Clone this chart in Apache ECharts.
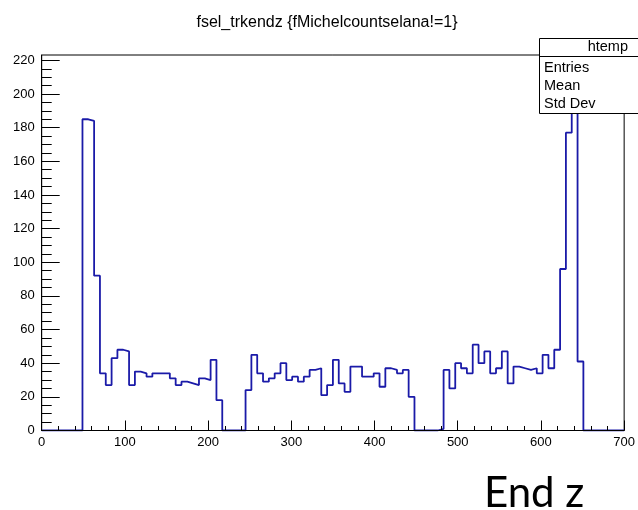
<!DOCTYPE html>
<html>
<head>
<meta charset="utf-8">
<script src="https://cdn.jsdelivr.net/npm/echarts@6/dist/echarts.min.js"></script>
<style>
html,body{margin:0;padding:0;background:#fff;}
#c{width:638px;height:510px;}
</style>
</head>
<body>
<div id="c"></div>
<script>
// ---- data ----
const chartTitle = 'fsel_trkendz {fMichelcountselana!=1}';
const histName = 'htemp';
const statLabels = ['Entries', 'Mean', 'Std Dev'];
const axisNote = 'End z';
const binLow = 0;
const binWidth = 7;
const counts = [
  0, 0, 0, 0, 0, 0, 0, 185, 184, 92,
  34, 27, 43, 48, 47, 27, 35, 34, 32, 34,
  34, 34, 31, 27, 29, 28, 27, 31, 30, 42,
  18, 0, 0, 0, 0, 24, 45, 34, 29, 31,
  34, 40, 30, 32, 29, 32, 36, 37, 21, 27,
  42, 28, 23, 38, 38, 32, 32, 34, 26, 37,
  36, 34, 36, 20, 0, 0, 0, 0, 1, 36,
  25, 40, 37, 34, 51, 40, 47, 34, 37, 47,
  28, 38, 37, 36, 37, 34, 45, 37, 48, 96,
  177, 212, 41, 0, 0, 0, 0, 0, 0, 0
];
const xTickLabels = [0, 100, 200, 300, 400, 500, 600, 700];
const yTickLabels = [0, 20, 40, 60, 80, 100, 120, 140, 160, 180, 200, 220];
const xMin = 0, xMax = 700;
const yMin = 0, yMax = 223.2;

// ---- build step outline ----
const stepData = counts.map((v, i) => [binLow + i * binWidth, v]);
stepData.push([binLow + counts.length * binWidth, counts[counts.length - 1]]);

const yMinor = [];
for (let k = 0; k < yTickLabels.length; k++) {
  for (let j = 1; j < 4; j++) {
    const v = yTickLabels[k] + j * 5;
    if (v < yMax) yMinor.push(v);
  }
}

const font = '"Liberation Sans", Arial, Helvetica, sans-serif';
const chart = echarts.init(document.getElementById('c'), null, {renderer: 'canvas'});
chart.setOption({
  animation: false,
  backgroundColor: '#ffffff',
  title: {
    text: chartTitle,
    left: 322, top: 10, textAlign: 'center',
    textStyle: {fontFamily: font, fontSize: 16, fontWeight: 'normal', color: '#000'}
  },
  grid: {
    left: 41.7, right: 13, top: 55, bottom: 79.5,
    show: true, borderColor: '#000', borderWidth: 1, backgroundColor: 'transparent'
  },
  xAxis: {
    type: 'value', min: xMin, max: xMax, interval: 100, z: 5,
    axisLine: {show: true, onZero: false, lineStyle: {color: '#000', width: 1}},
    axisTick: {show: true, inside: true, length: 10, lineStyle: {color: '#000'}},
    minorTick: {show: true, splitNumber: 5, length: 4.5, lineStyle: {color: '#000'}},
    splitLine: {show: false},
    axisLabel: {
      margin: 5, fontFamily: font, fontSize: 13, color: '#000',
      customValues: xTickLabels
    }
  },
  yAxis: [{
    type: 'value', min: yMin, max: yMax, z: 5,
    axisLine: {show: true, lineStyle: {color: '#000', width: 1}},
    axisTick: {show: true, inside: true, length: 18, lineStyle: {color: '#000'}, customValues: yTickLabels},
    splitLine: {show: false},
    axisLabel: {
      margin: 7, fontFamily: font, fontSize: 13, color: '#000',
      customValues: yTickLabels
    }
  }, {
    type: 'value', min: yMin, max: yMax, position: 'left', offset: 0, z: 5,
    axisLine: {show: false},
    axisTick: {show: true, inside: true, length: 10, lineStyle: {color: '#000'}, customValues: yMinor},
    splitLine: {show: false},
    axisLabel: {show: false}
  }],
  series: [{
    type: 'line',
    step: 'end',
    data: stepData,
    showSymbol: false,
    symbol: 'none',
    clip: true,
    lineStyle: {color: '#1a1aa8', width: 1.8},
    z: 2
  }],
  graphic: [
    {type: 'rect', z: 100, shape: {x: 539.5, y: 38.5, width: 120, height: 75},
     style: {fill: '#fff', stroke: '#000', lineWidth: 1}},
    {type: 'line', z: 101, shape: {x1: 539.5, y1: 56.5, x2: 638, y2: 56.5},
     style: {stroke: '#000', lineWidth: 1}},
    {type: 'text', z: 101, x: 628, y: 47,
     style: {text: histName, font: '14.5px ' + font, fill: '#000', textAlign: 'right', textVerticalAlign: 'middle'}},
    {type: 'text', z: 101, x: 544, y: 68,
     style: {text: statLabels[0], font: '14.5px ' + font, fill: '#000', textVerticalAlign: 'middle'}},
    {type: 'text', z: 101, x: 544, y: 86,
     style: {text: statLabels[1], font: '14.5px ' + font, fill: '#000', textVerticalAlign: 'middle'}},
    {type: 'text', z: 101, x: 544, y: 104,
     style: {text: statLabels[2], font: '14.5px ' + font, fill: '#000', textVerticalAlign: 'middle'}},
    {type: 'text', z: 101, x: 484, y: 493,
     style: {text: axisNote, font: '42px Lato, "Noto Sans", sans-serif', fill: '#000', textVerticalAlign: 'middle'}}
  ]
});
</script>
</body>
</html>
